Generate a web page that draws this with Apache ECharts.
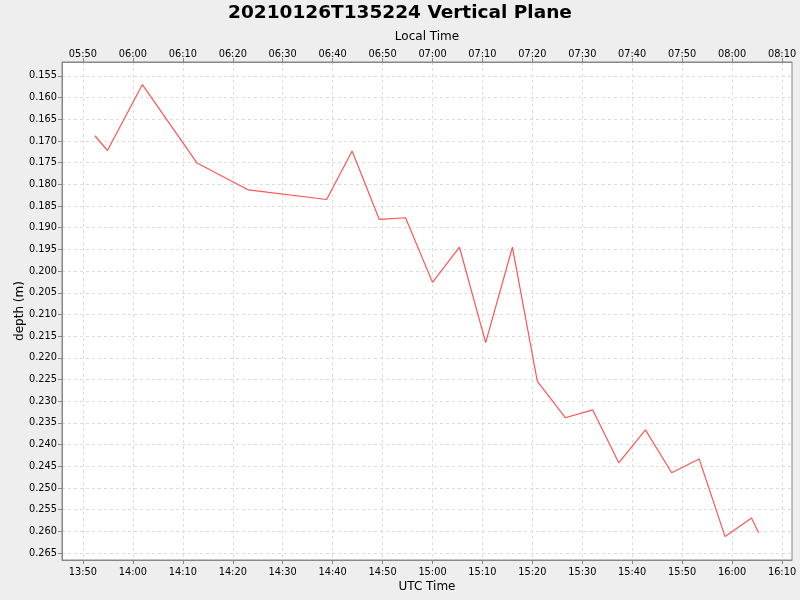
<!DOCTYPE html>
<html>
<head>
<meta charset="utf-8">
<script src="https://cdn.jsdelivr.net/npm/echarts@6/dist/echarts.min.js"></script>
<style>
html,body{margin:0;padding:0;background:#eeeeee;}
#chart{width:800px;height:600px;}
</style>
</head>
<body>
<div id="chart"></div>
<script>
// Data
var utcTimes = ['13:52:24','13:54:54','14:01:54','14:12:51','14:23:09','14:38:48','14:43:54','14:49:21',
  '14:54:36','15:00:00','15:05:24','15:10:39','15:16:00','15:21:00','15:26:36','15:32:06','15:37:18',
  '15:42:39','15:47:54','15:53:24','15:58:36','16:03:54','16:05:18'];
var depths = [0.1688,0.1722,0.1570,0.1751,0.1813,0.1835,0.1723,0.1881,
  0.1877,0.2026,0.1945,0.2165,0.1945,0.2254,0.2338,0.2320,0.2442,
  0.2366,0.2465,0.2433,0.2612,0.2569,0.2603];
var utcTicks = ['13:50','14:00','14:10','14:20','14:30','14:40','14:50','15:00','15:10','15:20','15:30','15:40','15:50','16:00','16:10'];
var localTicks = ['05:50','06:00','06:10','06:20','06:30','06:40','06:50','07:00','07:10','07:20','07:30','07:40','07:50','08:00','08:10'];
var depthTicks = [0.155,0.160,0.165,0.170,0.175,0.180,0.185,0.190,0.195,0.200,0.205,0.210,0.215,0.220,0.225,0.230,0.235,0.240,0.245,0.250,0.255,0.260,0.265];
var xRange = ['13:45:48','16:12:00'];
var yRange = [0.1518, 0.2666];
var titleText = '20210126T135224 Vertical Plane';

function toMin(s){ var p=s.split(':'); return (+p[0])*60 + (+p[1]) + (p[2]? (+p[2])/60 : 0); }
var tickMins = utcTicks.map(toMin);
var labelMap = {}, localMap = {};
tickMins.forEach(function(m,i){ labelMap[m.toFixed(3)] = utcTicks[i]; localMap[m.toFixed(3)] = localTicks[i]; });
var seriesData = utcTimes.map(function(t,i){ return [toMin(t), depths[i]]; });

var font = 'DejaVu Sans';
var tickFont = 9.8;
var axisLineStyle = {color:'#888888', width:1};
var gridLine = {show:true, lineStyle:{color:'#dcdcdc', type:[3,3], width:1}};

var chart = echarts.init(document.getElementById('chart'), null, {renderer:'canvas'});
chart.setOption({
  animation:false,
  backgroundColor:'#eeeeee',
  title:{text:titleText, left:'center', top:-1,
    textStyle:{fontFamily:font, fontSize:18.5, fontWeight:'bold', color:'#000'}},
  grid:{left:62, right:8, top:62, bottom:40, outerBoundsMode:'none', containLabel:false,
    show:true, backgroundColor:'#ffffff', borderColor:'#888888', borderWidth:1},
  xAxis:[{
    type:'value', position:'bottom', min:toMin(xRange[0]), max:toMin(xRange[1]),
    name:'UTC Time', nameLocation:'middle', nameGap:21, nameMoveOverlap:false,
    nameTextStyle:{fontFamily:font, fontSize:12, color:'#000'},
    axisLine:{show:true, lineStyle:axisLineStyle},
    axisTick:{show:true, length:4, lineStyle:{color:'#888'}, customValues:tickMins},
    axisLabel:{fontFamily:font, fontSize:tickFont, color:'#000', margin:7, customValues:tickMins,
      formatter:function(v){ return labelMap[v.toFixed(3)] || ''; }},
    splitLine:gridLine
  },{
    type:'value', position:'top', min:toMin(xRange[0]), max:toMin(xRange[1]),
    name:'Local Time', nameLocation:'middle', nameGap:19, nameMoveOverlap:false,
    nameTextStyle:{fontFamily:font, fontSize:12, color:'#000'},
    axisLine:{show:true, lineStyle:axisLineStyle},
    axisTick:{show:true, length:4, lineStyle:{color:'#888'}, customValues:tickMins},
    axisLabel:{fontFamily:font, fontSize:tickFont, color:'#000', margin:3, customValues:tickMins,
      formatter:function(v){ return localMap[v.toFixed(3)] || ''; }},
    splitLine:{show:false}
  }],
  yAxis:{
    type:'value', inverse:true, min:yRange[0], max:yRange[1],
    name:'depth (m)', nameLocation:'middle', nameGap:36, nameMoveOverlap:false,
    nameTextStyle:{fontFamily:font, fontSize:12, color:'#000'},
    axisLine:{show:true, lineStyle:axisLineStyle},
    axisTick:{show:true, length:4, lineStyle:{color:'#888'}, customValues:depthTicks},
    axisLabel:{fontFamily:font, fontSize:tickFont, color:'#000', margin:5, customValues:depthTicks,
      formatter:function(v){ return v.toFixed(3); }},
    splitLine:gridLine
  },
  series:[{
    type:'line', xAxisIndex:0, data:seriesData, showSymbol:false, symbol:'none',
    lineStyle:{color:'#ff5555', width:1.2}
  }]
});
</script>
</body>
</html>
